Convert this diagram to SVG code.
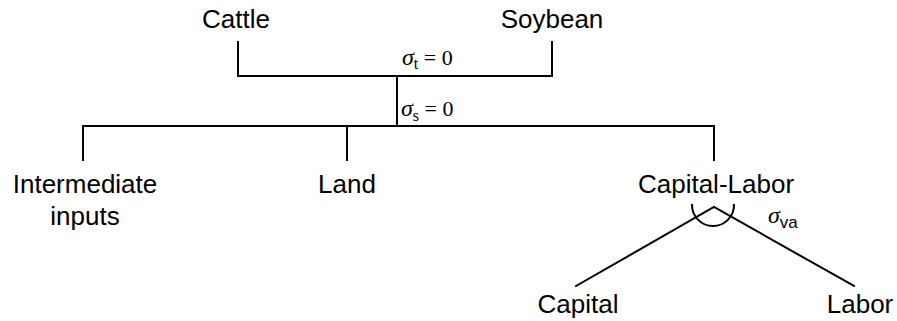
<svg xmlns="http://www.w3.org/2000/svg" width="897" height="321" viewBox="0 0 897 321">
<style>
.lbl{font-family:"Liberation Sans",Arial,sans-serif;font-size:26px;fill:#000;text-anchor:middle}
.sym{font-family:"Liberation Serif","Times New Roman",serif;font-size:22px;fill:#000}
.it{font-style:italic;font-size:24px}
.ln{stroke:#000;stroke-width:2;fill:none;stroke-linecap:square}
</style>
<rect width="897" height="321" fill="#fff"/>
<g id="connectors">
<path class="ln" d="M238,42 V76 H552 V42"/>
<path class="ln" d="M397,76 V126"/>
<path class="ln" d="M83,160 V126 H714 V160"/>
<path class="ln" d="M347,126 V160"/>
<path class="ln" d="M576,286 L714,207 L854,286" stroke-linecap="butt"/>
<path class="ln" d="M692,205 A21,21 0 0 0 734,205" stroke-width="1.8"/>
</g>
<g id="label-sigma-t"><text class="sym" x="402" y="65"><tspan class="it">σ</tspan><tspan font-size="16" dy="4">t</tspan><tspan dy="-4"> = 0</tspan></text></g>
<g id="label-sigma-s"><text class="sym" x="401" y="116"><tspan class="it">σ</tspan><tspan font-size="16" dy="5">s</tspan><tspan dy="-5"> = 0</tspan></text></g>
<g id="label-sigma-va"><text class="sym" x="768" y="223"><tspan class="it">σ</tspan><tspan font-family="Liberation Sans, Arial, sans-serif" font-size="17" dy="5">va</tspan></text></g>
<g id="node-cattle"><text class="lbl" x="236" y="28">Cattle</text></g>
<g id="node-soybean"><text class="lbl" x="552" y="28">Soybean</text></g>
<g id="node-intermediate"><text class="lbl" x="85" y="193">Intermediate</text><text class="lbl" x="85" y="225">inputs</text></g>
<g id="node-land"><text class="lbl" x="347" y="193">Land</text></g>
<g id="node-capital-labor"><text class="lbl" x="716" y="193">Capital-Labor</text></g>
<g id="node-capital"><text class="lbl" x="578" y="313">Capital</text></g>
<g id="node-labor"><text class="lbl" x="860" y="313">Labor</text></g>
</svg>
